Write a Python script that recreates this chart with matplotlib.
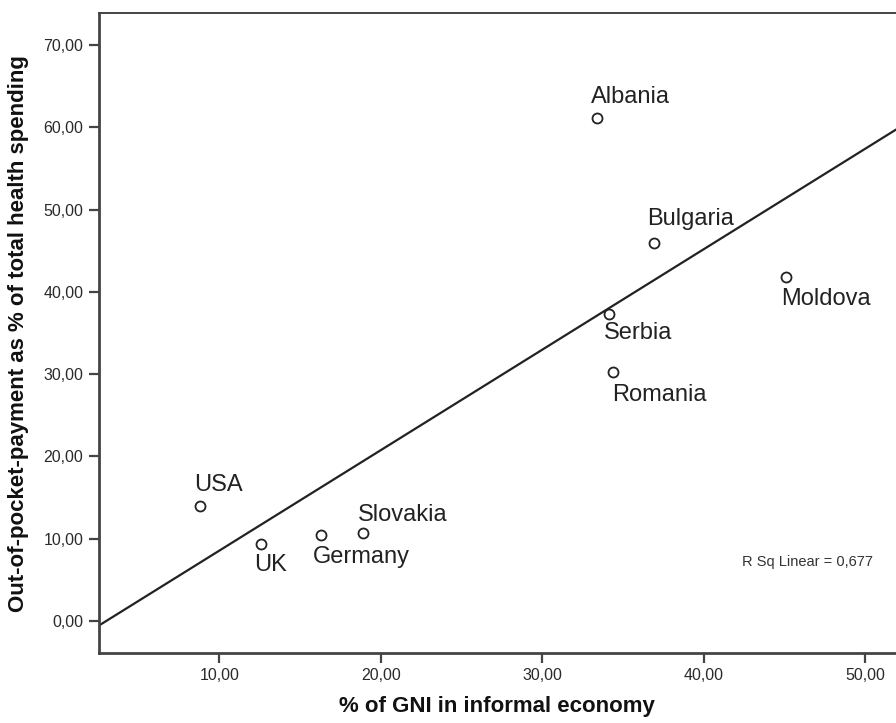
import matplotlib
matplotlib.use("Agg")
import matplotlib.pyplot as plt
import numpy as np

plt.rcParams['font.family'] = ['Liberation Sans', 'DejaVu Sans']

countries = ["Albania", "Bulgaria", "Moldova", "Serbia", "Romania",
             "USA", "UK", "Germany", "Slovakia"]
gni_informal = [33.4, 36.9, 45.1, 34.1, 34.4, 8.8, 12.6, 16.3, 18.9]
oop_share = [61.1, 45.9, 41.8, 37.3, 30.3, 14.0, 9.4, 10.4, 10.7]
r_sq = 0.677

# label offsets in pixels (dx, dy), text is left aligned
offsets = {"Albania": (-6, 21), "Bulgaria": (-7, 24), "Moldova": (-5, -22),
           "Serbia": (-5, -19), "Romania": (-1, -23), "USA": (-6, 21),
           "UK": (-7, -21), "Germany": (-8, -22), "Slovakia": (-5, 18)}

xticks = [10, 20, 30, 40, 50]
yticks = [0, 10, 20, 30, 40, 50, 60, 70]

def comma(v, n=2):
    return ("%.*f" % (n, v)).replace(".", ",")

fig = plt.figure(figsize=(8.96, 7.23), dpi=100)
ax = fig.add_axes([0.110, 0.0968, 0.89, 0.885])

ax.set_xlim(2.51, 51.9)
ax.set_ylim(-3.9, 73.9)

# fit line
b, a = np.polyfit(gni_informal, oop_share, 1)
xs = np.array(ax.get_xlim())
ax.plot(xs, a + b * xs, color="#222222", lw=1.6, zorder=2)

ax.plot(gni_informal, oop_share, "o", ms=7.2, mfc="white", mec="#222222",
        mew=1.3, ls="none", zorder=3)

for name, x, y in zip(countries, gni_informal, oop_share):
    dx, dy = offsets[name]
    ax.annotate(name, (x, y), xytext=(dx * 0.72, dy * 0.72),
                textcoords="offset points", ha="left", va="center",
                fontsize=17, color="#222222")

ax.text(0.971, 0.142, "R Sq Linear = " + comma(r_sq, 3),
        transform=ax.transAxes, ha="right", va="center",
        fontsize=10.5, color="#333333")

ax.set_xticks(xticks)
ax.set_xticklabels([comma(v) for v in xticks])
ax.set_yticks(yticks)
ax.set_yticklabels([comma(v) for v in yticks])
ax.tick_params(axis="both", direction="out", length=7, width=1.6,
               color="#444444", labelsize=11.5, labelcolor="#2a2a2a", pad=4)

for side in ["left", "bottom", "top"]:
    ax.spines[side].set_color("#444444")
ax.spines["left"].set_linewidth(2.0)
ax.spines["bottom"].set_linewidth(2.0)
ax.spines["top"].set_linewidth(1.4)
ax.spines["right"].set_visible(False)

ax.set_xlabel("% of GNI in informal economy", fontsize=16, fontweight="bold",
              color="#111111", labelpad=9)
ax.set_ylabel("Out-of-pocket-payment as % of total health spending",
              fontsize=16, fontweight="bold", color="#111111", labelpad=10)

fig.savefig("out.png", dpi=100)
